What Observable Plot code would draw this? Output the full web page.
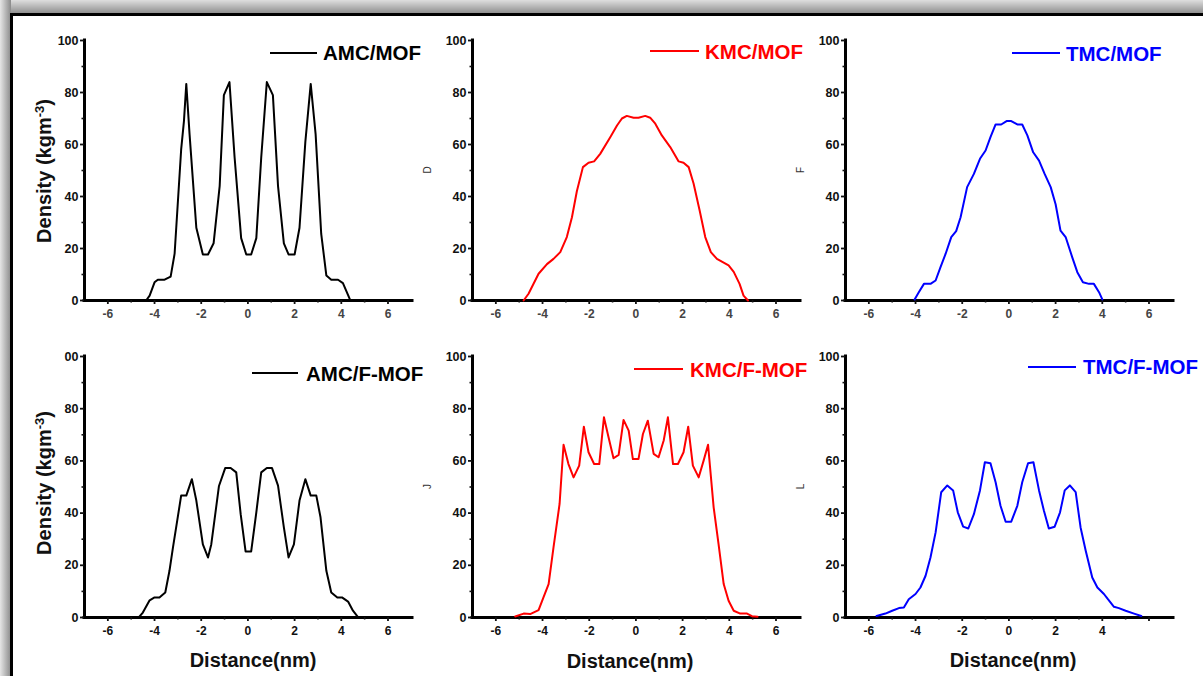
<!DOCTYPE html>
<html><head><meta charset="utf-8">
<script src="https://cdn.jsdelivr.net/npm/d3@7"></script>
<script src="https://cdn.jsdelivr.net/npm/@observablehq/plot@0.6"></script>
<style>
body{margin:0;background:#fff;}
#wrap{position:relative;width:1203px;height:676px;overflow:hidden;background:#fff;font-family:"Liberation Sans",Arial,sans-serif;}
.shadeTop{position:absolute;left:0;top:0;width:1203px;height:14px;background:linear-gradient(to bottom,#dedede,#8a8a8a);}
.shadeLeft{position:absolute;left:0;top:0;width:11px;height:676px;background:linear-gradient(to right,#e6e6e6,#8a8a8a);}
.border{position:absolute;left:10px;top:13px;width:1200px;height:700px;border-top:3px solid #000;border-left:3px solid #000;}
</style></head>
<body><div id="wrap"><div class="shadeTop"></div><div class="shadeLeft"></div><div class="border"></div></div>
<script>
// ---- data ----
const names = ["AMC/MOF","KMC/MOF","TMC/MOF","AMC/F-MOF","KMC/F-MOF","TMC/F-MOF"];
const colors = ["#000000","#ff0000","#0000ff","#000000","#ff0000","#0000ff"];
const sideLetters = ["","D","F","","J","L"];
const xTickValues = [-6,-4,-2,0,2,4,6];
const xMinorValues = [-5,-3,-1,1,3,5];
const yTickValues = [0,20,40,60,80,100];
const yMinorValues = [10,30,50,70,90];
const yTickLabels = ["0","20","40","60","80","100"];
const yTickLabelsCut = ["0","20","40","60","80","00"];
const xTickLabelsFull = ["-6","-4","-2","0","2","4","6"];
const xTickLabelsShort = ["-6","-4","-2","0","2","4",""];
const xDomain = [-7, 7.05];
const yDomain = [0, 100];

const amcMof = [[-4.36,0],[-4.21,1.9],[-4.0,7],[-3.86,8],[-3.57,8],[-3.31,9.2],[-3.14,18],[-3.0,38],[-2.86,58],[-2.74,69],[-2.64,83.3],[-2.5,64],[-2.21,28],[-1.93,17.7],[-1.71,17.7],[-1.47,22],[-1.21,44],[-1.03,79],[-0.79,84],[-0.57,55],[-0.29,24],[-0.07,17.7],[0.14,17.7],[0.36,24],[0.57,55],[0.81,84],[1.07,79],[1.29,44],[1.54,22],[1.74,17.7],[2.0,17.7],[2.21,28],[2.46,61],[2.69,83.3],[2.9,64],[3.14,25.6],[3.36,9.6],[3.57,8],[3.86,8],[4.07,6.7],[4.36,0.6]];
const kmcMof = [[-4.81,0],[-4.6,2.6],[-4.17,10.3],[-3.81,14],[-3.53,16],[-3.24,18.6],[-2.96,24.4],[-2.74,32],[-2.53,42],[-2.27,51.3],[-2.03,53],[-1.79,53.5],[-1.53,56.4],[-1.1,62.8],[-0.81,67.3],[-0.6,70],[-0.39,71],[-0.1,70.3],[0.11,70.3],[0.4,71],[0.61,70.3],[0.83,68],[1.11,63.5],[1.47,59],[1.83,53.5],[2.04,53],[2.26,51.3],[2.47,45],[2.73,34.6],[2.97,24.4],[3.21,18.6],[3.47,16],[3.97,13.5],[4.19,11],[4.44,6.4],[4.61,1.9],[4.8,0]];
const tmcMof = [[-4.04,0.4],[-3.86,3.2],[-3.64,6.4],[-3.36,6.4],[-3.14,7.7],[-2.93,12.8],[-2.71,18],[-2.47,24.4],[-2.26,26.7],[-2.07,32],[-1.79,43.6],[-1.5,48.7],[-1.24,54.5],[-1.0,57.7],[-0.79,62.8],[-0.57,67.7],[-0.33,67.7],[-0.1,69],[0.1,69],[0.36,67.7],[0.57,67.7],[0.79,63.5],[1.04,57],[1.29,53.8],[1.53,48.7],[1.79,43.6],[2.0,37],[2.21,26.9],[2.43,24.4],[2.71,16.7],[2.93,10.9],[3.17,7],[3.43,6.4],[3.64,6.4],[3.86,3.2],[4.0,0.4]];
const amcFMof = [[-4.64,0.4],[-4.5,1.9],[-4.21,6.6],[-4.0,7.7],[-3.79,7.7],[-3.54,9.6],[-3.36,17.9],[-3.21,26.9],[-3.03,37],[-2.86,46.7],[-2.64,46.7],[-2.4,53],[-2.21,44.8],[-1.93,28],[-1.71,23],[-1.57,28],[-1.24,50.4],[-0.97,57.3],[-0.74,57.3],[-0.5,55.6],[-0.31,39.6],[-0.1,25.3],[0.14,25.3],[0.36,40.3],[0.57,55.6],[0.81,57.3],[1.03,57.3],[1.29,50.5],[1.54,34.5],[1.74,23],[1.97,28],[2.21,44.8],[2.46,53],[2.69,46.7],[2.93,46.7],[3.11,38.4],[3.36,17.9],[3.57,9.6],[3.83,7.7],[4.03,7.7],[4.29,6.1],[4.5,2.6],[4.69,0.4]];
const kmcFMof = [[-5.17,0.4],[-4.81,1.5],[-4.53,1.3],[-4.17,2.8],[-3.96,7.7],[-3.74,12.8],[-3.53,26.9],[-3.27,43.5],[-3.1,66.2],[-2.89,58.8],[-2.67,53.7],[-2.43,58.2],[-2.23,73.1],[-2.03,63.3],[-1.79,58.8],[-1.57,58.8],[-1.37,76.7],[-1.17,69],[-0.96,61],[-0.74,62.3],[-0.53,75.7],[-0.31,71.6],[-0.13,60.7],[0.11,60.7],[0.3,70.3],[0.51,75.4],[0.76,62.7],[0.97,61.4],[1.19,67.8],[1.37,76.7],[1.59,58.8],[1.8,58.8],[2.04,63.3],[2.24,73.1],[2.44,58.2],[2.69,53.7],[2.9,60.1],[3.09,66.2],[3.33,42.2],[3.54,28.1],[3.76,12.8],[3.97,6.4],[4.19,2.6],[4.47,1.5],[4.76,1.5],[4.97,0.5],[5.21,0.3]];
const tmcFMof = [[-5.67,0.6],[-5.29,1.5],[-5.0,2.6],[-4.71,3.6],[-4.5,3.8],[-4.29,7],[-4.0,9],[-3.79,11.5],[-3.57,16],[-3.36,23],[-3.14,32.6],[-2.9,48],[-2.64,50.6],[-2.39,48.7],[-2.19,40.3],[-1.96,34.8],[-1.74,34.1],[-1.5,39.6],[-1.24,48.7],[-1.03,59.5],[-0.79,59.1],[-0.57,51.8],[-0.36,42.8],[-0.14,36.7],[0.1,36.7],[0.36,42.8],[0.57,51.8],[0.82,59.1],[1.05,59.5],[1.29,48.7],[1.5,40.9],[1.71,34.1],[1.96,34.8],[2.19,40.3],[2.39,48.7],[2.61,50.6],[2.86,48],[3.07,34.5],[3.29,25.6],[3.57,15.3],[3.79,11.5],[4.07,9],[4.24,7],[4.5,4.1],[4.71,3.6],[5.0,2.6],[5.36,1.5],[5.67,0.6]];

const seriesData = [amcMof,kmcMof,tmcMof,amcFMof,kmcFMof,tmcFMof];
const yLabelSets = [yTickLabels,yTickLabels,yTickLabels,yTickLabelsCut,yTickLabels,yTickLabels];
const xLabelSets = [xTickLabelsFull,xTickLabelsFull,xTickLabelsFull,xTickLabelsFull,xTickLabelsFull,xTickLabelsShort];

// ---- layout (pixels) ----
const layout = [
  {x0:84,x1:412,yT:40,yB:300,leg:[270,317,53,323,60],xc:"#444"},
  {x0:472,x1:800,yT:40,yB:300,leg:[650,699,51,705,59],xc:"#444"},
  {x0:845,x1:1173,yT:40,yB:300,leg:[1012,1060,53,1066,61],xc:"#444"},
  {x0:84,x1:412,yT:356,yB:617,leg:[252,298,373,306,381],xc:"#111"},
  {x0:472,x1:800,yT:356,yB:617,leg:[634,683,369,690,377],xc:"#111"},
  {x0:845,x1:1173,yT:356,yB:617,leg:[1028,1076,367,1083,374],xc:"#111"}
];

const wrap = document.getElementById("wrap");
layout.forEach((L,i) => {
  const mL=50,mR=12,mT=20,mB=30;
  const w = L.x1-L.x0+mL+mR, h = L.yB-L.yT+mT+mB;
  const data = seriesData[i].map(([x,y]) => ({x,y}));
  const p = Plot.plot({
    width:w,height:h,marginLeft:mL,marginRight:mR,marginTop:mT,marginBottom:mB,
    x:{domain:xDomain}, y:{domain:yDomain},
    style:{fontFamily:"'Liberation Sans',Arial,sans-serif",fontSize:"12.5px",fontWeight:"bold",color:"#111",background:"transparent",overflow:"visible"},
    marks:[
      Plot.ruleX([xDomain[0]],{stroke:"#000",strokeWidth:3,strokeLinecap:"square"}),
      Plot.ruleY([yDomain[0]],{stroke:"#000",strokeWidth:3,strokeLinecap:"square"}),
      Plot.axisY({ticks:yTickValues,tickSize:4,tickPadding:2,strokeWidth:1.8,label:null,
        tickFormat:d => yLabelSets[i][yTickValues.indexOf(d)]}),
      Plot.axisY({ticks:yMinorValues,tickSize:2.5,strokeWidth:1.6,label:null,tickFormat:() => ""}),
      Plot.axisX({ticks:xTickValues,tickSize:4,tickPadding:5,strokeWidth:1.8,label:null,fill:L.xc,fontSize:12,
        tickFormat:d => xLabelSets[i][xTickValues.indexOf(d)]}),
      Plot.axisX({ticks:xMinorValues,tickSize:2.5,strokeWidth:1.6,label:null,tickFormat:() => ""}),
      Plot.line(data,{x:"x",y:"y",stroke:colors[i],strokeWidth:2})
    ]
  });
  p.style.position="absolute";
  p.style.left=(L.x0-mL)+"px";
  p.style.top=(L.yT-mT)+"px";
  wrap.appendChild(p);
});

// ---- overlay text: legends and axis titles ----
const ov = d3.select(wrap).append("svg")
  .attr("width",1203).attr("height",676)
  .style("position","absolute").style("left","0px").style("top","0px")
  .style("font-family","'Liberation Sans',Arial,sans-serif");

layout.forEach((L,i) => {
  const [lx1,lx2,ly,tx,ty] = L.leg;
  ov.append("line").attr("x1",lx1).attr("x2",lx2).attr("y1",ly).attr("y2",ly)
    .attr("stroke",colors[i]).attr("stroke-width",2);
  ov.append("text").attr("x",tx).attr("y",ty).attr("fill",colors[i])
    .attr("font-size",20.5).attr("font-weight","bold").text(names[i]);
  if (sideLetters[i]) {
    ov.append("text").attr("transform",`translate(${L.x0-41},${(L.yT+L.yB)/2}) rotate(-90)`)
      .attr("text-anchor","middle").attr("font-size",10).attr("fill","#333").text(sideLetters[i]);
  }
});

[[51,171],[51,483]].forEach(([x,y]) => {
  const t = ov.append("text").attr("transform",`translate(${x},${y}) rotate(-90)`)
    .attr("text-anchor","middle").attr("font-size",20).attr("font-weight","bold").attr("fill","#111");
  t.append("tspan").text("Density (kgm");
  t.append("tspan").attr("dy",-7).attr("font-size",13).text("-3");
  t.append("tspan").attr("dy",7).text(")");
});

[[253,667],[630,668],[1013,667]].forEach(([x,y]) => {
  ov.append("text").attr("x",x).attr("y",y).attr("text-anchor","middle")
    .attr("font-size",20).attr("font-weight","bold").attr("fill","#111").text("Distance(nm)");
});
</script>
</body></html>
